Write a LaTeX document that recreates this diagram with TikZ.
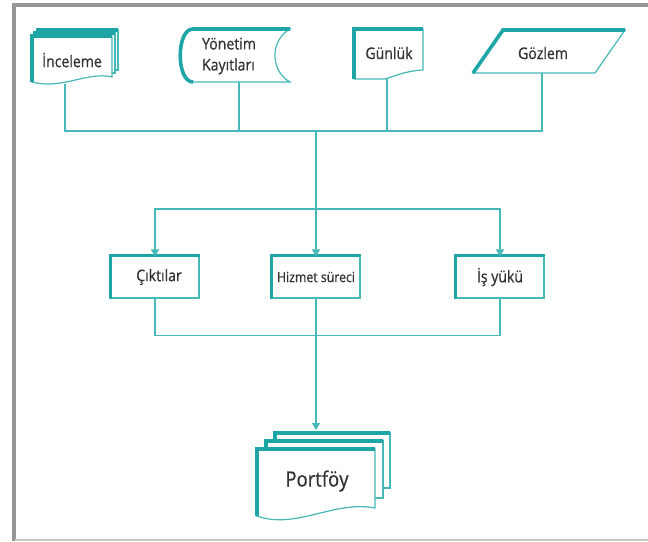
\documentclass[tikz,border=0pt]{standalone}
\usepackage{fontspec}
\setmainfont{Open Sans}[FakeStretch=0.88,FakeBold=0.6]
\usetikzlibrary{arrows.meta}
\definecolor{teal1}{RGB}{30,166,166}
\definecolor{teal2}{RGB}{70,184,184}
\definecolor{txt}{RGB}{50,50,50}
\definecolor{framegray}{RGB}{150,150,150}
\begin{document}
\begin{tikzpicture}[x=1pt,y=-1pt,
  thinline/.style={draw=teal2,line width=1.2pt},
  thickedge/.style={draw=teal1,line width=3.6pt,line join=miter},
  lbl/.style={text=txt,font=\fontsize{16}{21}\selectfont,inner sep=0pt,align=center},
  conn/.style={draw=teal2,line width=1.3pt},
  arr/.style={conn,-{Triangle[length=7pt,width=8pt]},shorten >=1pt},
  flowbox/.style={draw=teal2,line width=1.2pt,fill=white,minimum width=88pt,minimum height=42pt,inner sep=0pt,text=txt,font=\fontsize{16}{20}\selectfont},
]
\useasboundingbox (0,0) rectangle (648,541);
\fill[white] (0,0) rectangle (648,541);
% frame
\draw[framegray,line width=3.4pt] (13.8,541) -- (13.8,5) -- (648,5);
\draw[framegray!50,line width=1.4pt] (15,540) -- (648,540);

% ---------- İnceleme (multi-document)
\foreach \d in {6,3} {
  \filldraw[fill=white,thinline] (32+\d,36-\d) rectangle (112+\d,76-\d);
  \draw[thickedge] (32+\d,76-\d) -- (32+\d,36-\d) -- (112+\d,36-\d);
}
\filldraw[fill=white,thinline] (32,36) -- (112,36) -- (112,77) .. controls (88,71) and (62,90) .. (32,82) -- cycle;
\draw[thickedge] (32,82) -- (32,36) -- (112,36);
\node[lbl] (ince) at (72,60) {İnceleme};
\coordinate (inceB) at (65,84);

% ---------- Yönetim Kayıtları (stored data)
\filldraw[fill=white,thinline] (193,29) -- (290,29) .. controls (270,40) and (270,71) .. (290,82) -- (193,82) .. controls (176,82) and (176,29) .. (193,29) -- cycle;
\draw[thickedge] (193,82) .. controls (176,82) and (176,29) .. (193,29) -- (290,29);
\node[lbl,align=left] (yon) at (229,56) {Yönetim\\Kayıtları};
\coordinate (yonB) at (239,82);

% ---------- Günlük (document)
\filldraw[fill=white,thinline] (354,29) -- (423,29) -- (423,70) .. controls (405,71) and (395,76) .. (385,79) -- (354,79) -- cycle;
\draw[thickedge] (354,79) -- (354,29) -- (423,29);
\node[lbl] (gun) at (389,53) {Günlük};
\coordinate (gunB) at (387,78);

% ---------- Gözlem (parallelogram)
\filldraw[fill=white,thinline] (473,73) -- (503,30) -- (625,30) -- (595,73) -- cycle;
\draw[thickedge] (473,73) -- (503,30) -- (625,30);
\node[lbl] (goz) at (543,53) {Gözlem};
\coordinate (gozB) at (542,73);

% ---------- middle boxes
\node[flowbox] (cik) at (155,277) {\hspace*{8pt}Çıktılar};
\node[flowbox] (hiz) at (316,277) {\fontsize{14}{16}\selectfont Hizmet süreci};
\node[flowbox] (isy) at (500,277) {İş yükü};
\foreach \n in {cik,hiz,isy} {
  \draw[thickedge] (\n.south west) -- (\n.north west) -- (\n.north east);
}

% ---------- Portföy (multi-document)
\filldraw[fill=white,thinline] (275,433) rectangle (390,488);
\draw[thickedge] (275,448) -- (275,433) -- (390,433);
\filldraw[fill=white,thinline] (266,441) rectangle (383,498);
\draw[thickedge] (266,456) -- (266,441) -- (383,441);
\filldraw[fill=white,thinline] (257,449) -- (375,449) -- (375,508) .. controls (335,500) and (295,530) .. (257,516) -- cycle;
\draw[thickedge] (257,516) -- (257,449) -- (375,449);
\node[lbl,font=\fontsize{21}{24}\selectfont] (port) at (317,481) {Portföy};
\coordinate (portT) at (316,431);

% ---------- connectors
\coordinate (j1) at (316,131);
\coordinate (j2) at (316,209);
\coordinate (j3) at (316,335.5);
\draw[conn] (inceB) |- (j1);
\draw[conn] (gozB) |- (j1);
\draw[conn] (yonB) -- (yonB |- j1);
\draw[conn] (gunB) -- (gunB |- j1);
\draw[arr] (j1) -- ([yshift=-2pt]hiz.north);
\draw[arr] (j2) -| ([yshift=-2pt]cik.north);
\draw[arr] (j2) -| ([yshift=-2pt]isy.north);
\draw[conn] (cik.south) |- (j3);
\draw[conn] (isy.south) |- (j3);
\draw[arr] (hiz.south) -- (portT);
\end{tikzpicture}
\end{document}
